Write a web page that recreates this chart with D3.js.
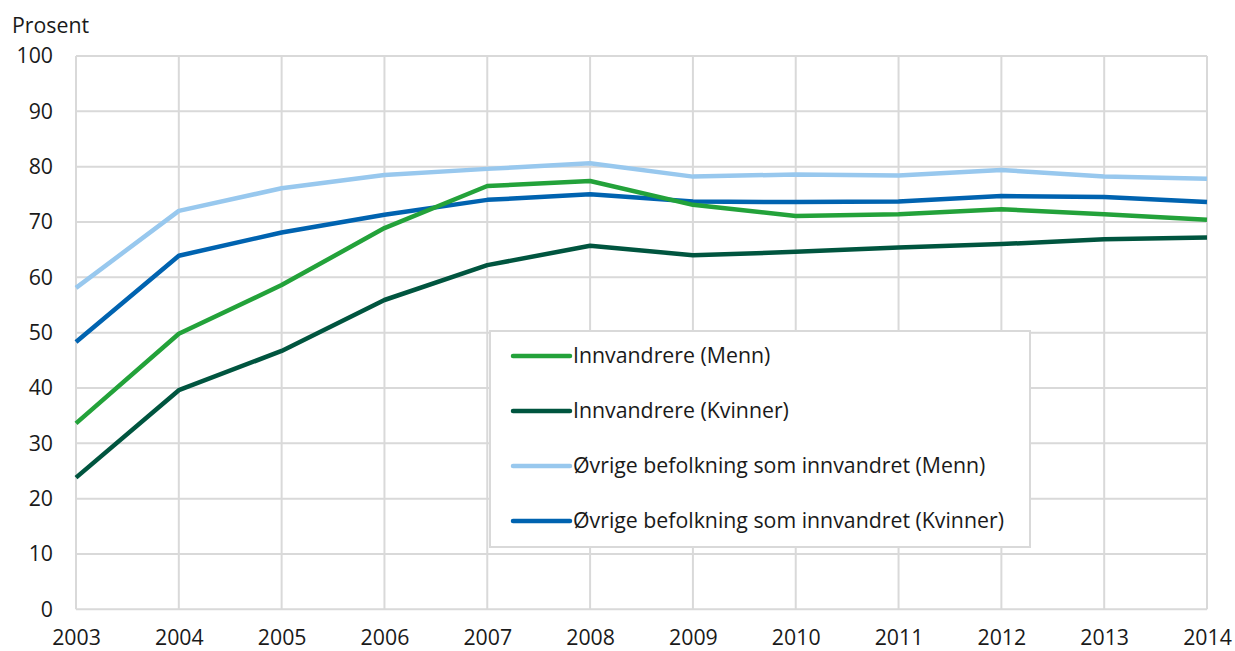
<!DOCTYPE html>
<html>
<head>
<meta charset="utf-8">
<script src="https://cdn.jsdelivr.net/npm/d3@7"></script>
<style>
  html, body { margin: 0; padding: 0; background: #fff; }
  svg { display: block; font-family: "Open Sans", sans-serif; }
</style>
</head>
<body>
<svg id="chart" width="1235" height="651"></svg>
<script>
const years = [2003, 2004, 2005, 2006, 2007, 2008, 2009, 2010, 2011, 2012, 2013, 2014];
const yTicks = [0, 10, 20, 30, 40, 50, 60, 70, 80, 90, 100];
const innvandrereMenn    = [33.6, 49.8, 58.6, 68.9, 76.5, 77.4, 73.1, 71.1, 71.4, 72.3, 71.4, 70.4];
const innvandrereKvinner = [23.8, 39.6, 46.7, 55.9, 62.2, 65.7, 64.0, 64.6, 65.4, 66.0, 66.9, 67.2];
const ovrigeMenn         = [58.1, 72.0, 76.1, 78.5, 79.6, 80.6, 78.2, 78.6, 78.4, 79.4, 78.2, 77.8];
const ovrigeKvinner      = [48.3, 63.9, 68.1, 71.3, 74.0, 75.0, 73.7, 73.6, 73.7, 74.7, 74.5, 73.6];
const seriesNames = [
  "Innvandrere (Menn)",
  "Innvandrere (Kvinner)",
  "Øvrige befolkning som innvandret (Menn)",
  "Øvrige befolkning som innvandret (Kvinner)"
];
const seriesColors = ["#23a23a", "#00553f", "#98c8ee", "#0063b0"];
const yLabel = "Prosent";

(function () {
const seriesData = [innvandrereMenn, innvandrereKvinner, ovrigeMenn, ovrigeKvinner];
const svg = d3.select("#chart");
const mLeft = 76, mRight = 1207, mTop = 56, mBottom = 609.3;
const fs = 21.3;

const x = d3.scaleLinear().domain([years[0], years[years.length - 1]]).range([mLeft, mRight]);
const y = d3.scaleLinear().domain([0, 100]).range([mBottom, mTop]);

const textColor = "#1a1a1a";
const gridColor = "#d9d9d9";

// grid
svg.append("g")
  .selectAll("line").data(yTicks).join("line")
  .attr("x1", mLeft).attr("x2", mRight)
  .attr("y1", d => y(d)).attr("y2", d => y(d))
  .attr("stroke", gridColor).attr("stroke-width", 2);
svg.append("g")
  .selectAll("line").data(years).join("line")
  .attr("x1", d => x(d)).attr("x2", d => x(d))
  .attr("y1", mTop).attr("y2", mBottom)
  .attr("stroke", gridColor).attr("stroke-width", 2);

// y axis labels
const yAxis = d3.axisLeft(y).tickValues(yTicks).tickSize(0).tickPadding(0);
const gy = svg.append("g").attr("transform", `translate(${mLeft - 23},0)`).call(yAxis);
gy.select(".domain").remove();
gy.selectAll("text").attr("font-size", fs).attr("fill", textColor)
  .attr("font-family", "'Open Sans', sans-serif");

// x axis labels
const xAxis = d3.axisBottom(x).tickValues(years).tickFormat(d3.format("d")).tickSize(0).tickPadding(0);
const gx = svg.append("g").attr("transform", `translate(0,${mBottom + 20.5})`).call(xAxis);
gx.select(".domain").remove();
gx.selectAll("text").attr("font-size", fs).attr("fill", textColor)
  .attr("font-family", "'Open Sans', sans-serif");

svg.append("text").attr("x", 12).attr("y", 33).attr("font-size", fs)
  .attr("fill", textColor).text(yLabel);

// lines
const line = d3.line().x((d, i) => x(years[i])).y(d => y(d));
const drawOrder = [2, 3, 0, 1];
drawOrder.forEach(k => {
  svg.append("path").datum(seriesData[k])
    .attr("d", line)
    .attr("fill", "none")
    .attr("stroke", seriesColors[k])
    .attr("stroke-width", 4.5)
    .attr("stroke-linejoin", "round");
});

// legend
const lg = svg.append("g");
lg.append("rect").attr("x", 490).attr("y", 331).attr("width", 540).attr("height", 216)
  .attr("fill", "#fff").attr("stroke", gridColor).attr("stroke-width", 2);
seriesNames.forEach((name, i) => {
  const cy = 356 + i * 55;
  lg.append("line").attr("x1", 513).attr("x2", 570).attr("y1", cy).attr("y2", cy)
    .attr("stroke", seriesColors[i]).attr("stroke-width", 4.5).attr("stroke-linecap", "round");
  lg.append("text").attr("x", 573).attr("y", cy).attr("dy", "0.35em")
    .attr("font-size", fs).attr("fill", textColor).text(name);
});
})();
</script>
</body>
</html>
